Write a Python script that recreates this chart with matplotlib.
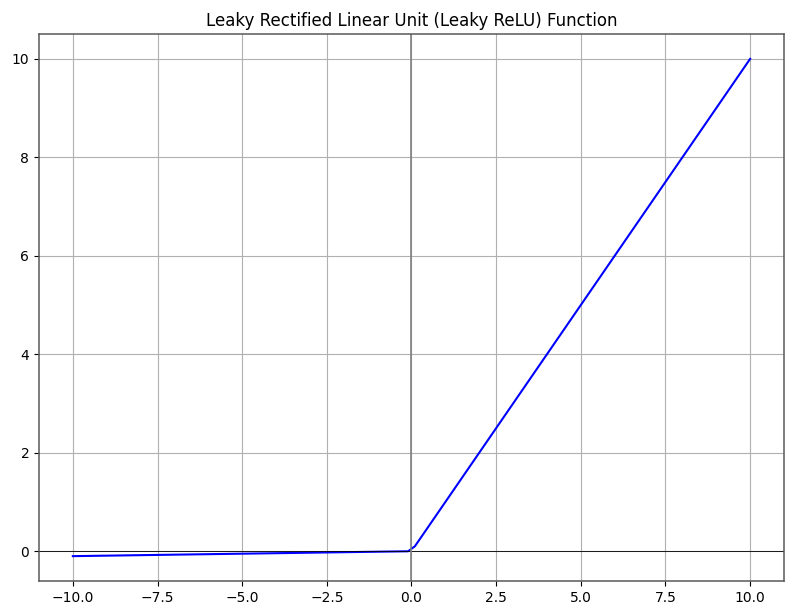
import matplotlib
matplotlib.use('Agg')
import matplotlib.pyplot as plt

# breakpoints of the leaky ReLU curve (alpha ~ 0.01)
x_vals = [-10.0, -0.1, 0.1, 10.0]
y_vals = [-0.1, -0.001, 0.1, 10.0]

fig = plt.figure(figsize=(7.94, 6.16), dpi=100)
ax = fig.add_axes([0.0491, 0.0568, 0.9383, 0.888])
ax.plot(x_vals, y_vals, color='blue', linewidth=1.5)
ax.axhline(0, color='black', linewidth=0.6)
ax.axvline(0, color='grey', linewidth=1.2)
ax.grid(True)
for s in ax.spines.values():
    s.set_color('0.35')
    s.set_linewidth(1.1)
ax.set_title('Leaky Rectified Linear Unit (Leaky ReLU) Function')
ax.set_xticks([-10, -7.5, -5, -2.5, 0, 2.5, 5, 7.5, 10])
fig.savefig('out.png', dpi=100)
